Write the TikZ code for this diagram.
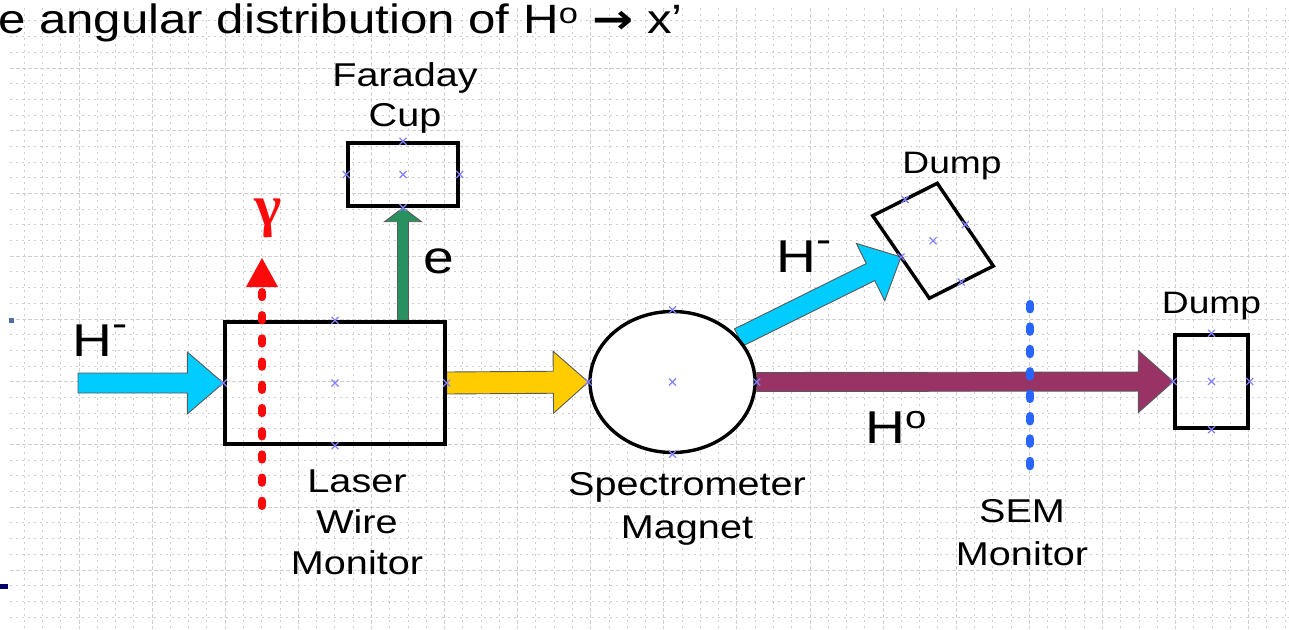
\documentclass[tikz,border=0pt]{standalone}
\usepackage{fontspec}
\setmainfont{Liberation Sans}
\newfontfamily\grkfont{Liberation Serif}
\newfontfamily\arrowfont{DejaVu Sans}
\usepackage{graphicx}
\usetikzlibrary{calc,shapes.geometric}
\pgfdeclarelayer{gridlayer}
\pgfdeclarelayer{arrowlayer}
\pgfdeclarelayer{toplayer}
\pgfsetlayers{gridlayer,arrowlayer,main,toplayer}
\definecolor{cyanA}{RGB}{0,204,255}
\definecolor{goldA}{RGB}{255,204,0}
\definecolor{maroonA}{RGB}{153,51,102}
\definecolor{greenA}{RGB}{40,145,95}
\definecolor{redA}{RGB}{250,10,10}
\definecolor{blueA}{RGB}{40,100,255}
\definecolor{cpcolor}{RGB}{130,130,255}
\definecolor{bulletblue}{RGB}{80,110,160}
\definecolor{navyA}{RGB}{0,0,102}
\newcommand\stretchtxt[1]{\scalebox{1.2}[1]{#1}}
% block arrow: #1 fill colour, #2 start, #3 end, #4 shaft half width, #5 head half width, #6 head length
\newcommand\blockarrow[6]{%
  \coordinate (bahead) at ($(#3)!#6!(#2)$);
  \filldraw[blockarrowline, fill=#1] ($(#2)!#4!90:(#3)$) -- ($(bahead)!#4!90:(#3)$) -- ($(bahead)!#5!90:(#3)$) -- (#3) -- ($(bahead)!#5!-90:(#3)$) -- ($(bahead)!#4!-90:(#3)$) -- ($(#2)!#4!-90:(#3)$) -- cycle;}
\begin{document}
\begin{tikzpicture}[x=1pt,y=-1pt,
  boxline/.style={draw=black, line width=3.4pt},
  boxnode/.style={boxline, inner sep=0pt, rectangle},
  blockarrowline/.style={draw=black!65, line width=0.9pt, line join=miter},
  mingrid/.style={draw=gray!38, line width=0.9pt, dash pattern=on 1.5pt off 4.5pt},
  majgrid/.style={draw=gray!38, line width=1pt, dash pattern=on 4pt off 2pt},
  cpxline/.style={draw=cpcolor, line width=1.2pt},
  cpx/.pic={\draw[cpxline] (-3.5,-3.5) -- (3.5,3.5) (-3.5,3.5) -- (3.5,-3.5);},
  lbl/.style={inner sep=0pt, anchor=base},
  reddots/.style={draw=redA, line width=8pt, line cap=round, dash pattern=on 5.3pt off 17.9pt},
  bluedots/.style={draw=blueA, line width=8.5pt, line cap=round, dash pattern=on 5pt off 17.4pt}]
\useasboundingbox (0,0) rectangle (1289,629);

% background and grid
\begin{pgfonlayer}{gridlayer}
\fill[white] (0,0) rectangle (1289,629);
\foreach \k in {1,...,70}{
  \pgfmathsetmacro\xx{5.9+18.275*\k}
  \pgfmathtruncatemacro\mm{mod(\k,4)}
  \ifnum\mm=0 \draw[majgrid] (\xx,8) -- (\xx,629); \else \draw[mingrid] (\xx,8) -- (\xx,629); \fi
}
\foreach \k in {1,...,39}{
  \pgfmathsetmacro\yy{5.25+15.6875*\k}
  \pgfmathtruncatemacro\mm{mod(\k,4)}
  \ifnum\mm=0 \draw[majgrid] (10,\yy) -- (1289,\yy); \else \draw[mingrid] (10,\yy) -- (1289,\yy); \fi
}
\end{pgfonlayer}

% slide bullets
\fill[bulletblue] (9,318) rectangle (14,323);
\fill[navyA] (0,584) rectangle (8,589);

% title
\node[lbl, anchor=base west, font=\fontsize{41}{41}\selectfont] (title) at (-2,33) {\stretchtxt{e angular distribution of H\textsuperscript{o} {\arrowfont\bfseries →} x’}};

% main shapes
\node[boxnode, minimum width=220pt, minimum height=122pt] (lwm) at (335,383) {};
\node[boxnode, minimum width=110pt, minimum height=63pt] (fc) at (403,174.5) {};
\node[boxline, ellipse, fill=white, inner sep=0pt, minimum width=165pt, minimum height=141pt] (mag) at (672.5,382) {};
\node[boxnode, minimum width=73pt, minimum height=93pt] (dumpr) at (1211.5,381.5) {};
\coordinate (d1a) at (872.7,215.7);
\coordinate (d1b) at (937.3,183.3);
\coordinate (d1c) at (993.3,266);
\coordinate (d1d) at (929.3,298.3);
\draw[boxline] (d1a) -- (d1b) -- (d1c) -- (d1d) -- cycle;
\coordinate (d1w) at ($(d1a)!.5!(d1d)$);
\coordinate (d1n) at ($(d1a)!.5!(d1b)$);
\coordinate (d1e) at ($(d1b)!.5!(d1c)$);
\coordinate (d1s) at ($(d1c)!.5!(d1d)$);
\coordinate (d1ctr) at ($(d1a)!.5!(d1c)$);

% block arrows
\coordinate (hin) at (78,383);
\coordinate (gst) at (fc.south |- lwm.north);
\begin{pgfonlayer}{arrowlayer}
\blockarrow{cyanA}{hin}{lwm.west}{10pt}{31pt}{36pt}
\blockarrow{goldA}{lwm.east}{mag.west}{11pt}{31pt}{35pt}
\blockarrow{maroonA}{mag.east}{dumpr.west}{9.5pt}{31pt}{35pt}
\blockarrow{cyanA}{mag.34}{d1w}{9.5pt}{32pt}{34pt}
\blockarrow{greenA}{gst}{fc.south}{5.5pt}{18.5pt}{14pt}
\end{pgfonlayer}

% dotted beams and connection-point marks
\coordinate (gbot) at (262,506);
\coordinate (gtop) at (262,292);
\coordinate (gtip) at (262,258);
\coordinate (sbot) at (1030,466);
\coordinate (stop) at (1030,300);
\begin{pgfonlayer}{toplayer}
\draw[reddots] (gbot) -- (gtop);
\fill[redA] (gtip) -- ($(gtip)+(-16,29)$) -- ($(gtip)+(16,29)$) -- cycle;
\draw[bluedots] (sbot) -- (stop);
\foreach \a in {north,south,east,west,center}{
  \pic at (lwm.\a) {cpx};
  \pic at (fc.\a) {cpx};
  \pic at (mag.\a) {cpx};
  \pic at (dumpr.\a) {cpx};
}
\foreach \c in {d1w,d1n,d1e,d1s,d1ctr}{\pic at (\c) {cpx};}
\end{pgfonlayer}

% labels
\node[lbl, text=redA, font=\grkfont\bfseries\fontsize{58}{58}\selectfont, anchor=center] (gam) at (268,218) {γ};
\node[lbl, anchor=base west, font=\fontsize{46}{46}\selectfont] (lhin) at (72,356) {\stretchtxt{H\raisebox{20pt}{\fontsize{38}{38}\selectfont -}}};
\node[lbl, anchor=base west, font=\fontsize{46}{46}\selectfont] (lhdiag) at (776,272) {\stretchtxt{H\raisebox{20pt}{\fontsize{38}{38}\selectfont -}}};
\node[lbl, anchor=base west, font=\fontsize{46}{46}\selectfont] (lhzero) at (865,443) {\stretchtxt{H\raisebox{14.7pt}{\fontsize{32}{32}\selectfont o}}};
\node[lbl, anchor=base west, font=\fontsize{46}{46}\selectfont] (le) at (423,273) {\stretchtxt{e}};
\node[lbl, font=\fontsize{33}{40}\selectfont] (lfc) at (405,86) {\stretchtxt{\begin{tabular}[t]{@{}c@{}}Faraday\\Cup\end{tabular}}};
\node[lbl, font=\fontsize{33}{41}\selectfont] (llwm) at (357,492) {\stretchtxt{\begin{tabular}[t]{@{}c@{}}Laser\\Wire\\Monitor\end{tabular}}};
\node[lbl, font=\fontsize{33}{43}\selectfont] (lmag) at (687,495) {\stretchtxt{\begin{tabular}[t]{@{}c@{}}Spectrometer\\Magnet\end{tabular}}};
\node[lbl, font=\fontsize{33}{43}\selectfont] (lsem) at (1022,522.7) {\stretchtxt{\begin{tabular}[t]{@{}c@{}}SEM\\Monitor\end{tabular}}};
\node[lbl, font=\fontsize{31}{31}\selectfont] (ld1) at (952,173.5) {\stretchtxt{Dump}};
\node[lbl, font=\fontsize{31}{31}\selectfont] (ld2) at (1211.5,313.3) {\stretchtxt{Dump}};
\end{tikzpicture}
\end{document}
